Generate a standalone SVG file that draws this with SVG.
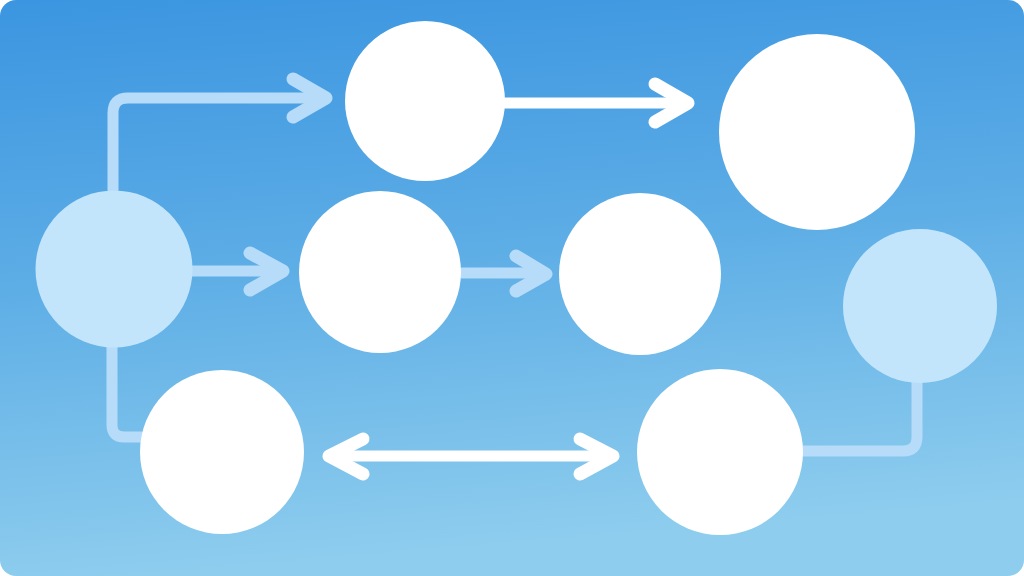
<svg xmlns="http://www.w3.org/2000/svg" width="1024" height="576" viewBox="0 0 1024 576">
  <defs>
    <linearGradient id="bg" x1="0" y1="0" x2="0.15" y2="1">
      <stop offset="0" stop-color="#3b95e0"/>
      <stop offset="0.5" stop-color="#5eaee6"/>
      <stop offset="1" stop-color="#8ecdee"/>
    </linearGradient>
  </defs>
  <style>
    .light { fill: #c3e5fc; }
    .white { fill: #ffffff; }
    .lc { fill: none; stroke: #b6dcfa; stroke-width: 11; stroke-linecap: round; stroke-linejoin: round; }
    .wc { fill: none; stroke: #ffffff; stroke-width: 11; stroke-linecap: round; stroke-linejoin: round; }
    .head { stroke-width: 13; }
  </style>
  <rect x="0" y="0" width="1024" height="576" fill="#ffffff"/>
  <rect x="0" y="0" width="1024" height="576" rx="16" ry="16" fill="url(#bg)"/>

  <g id="connectors">
    <path class="lc" d="M113,190 V113 Q113,98 128,98 H324"/>
    <path class="lc head" d="M293,79 L326,98 L293,117"/>
    <path class="wc" d="M505,103 H686"/>
    <path class="wc head" d="M655,84 L688,103 L655,122"/>
    <path class="lc" d="M192,271 H281"/>
    <path class="lc head" d="M250,253 L283,271 L250,290"/>
    <path class="lc" d="M462,273 H544"/>
    <path class="lc head" d="M516,256 L546,274 L516,291"/>
    <path class="lc" d="M112,346 V425 Q112,437 124,437 H145"/>
    <path class="wc" d="M330,456 H612"/>
    <path class="wc head" d="M363,439 L329,456 L363,474"/>
    <path class="wc head" d="M580,439 L613,456 L580,474"/>
    <path class="lc" d="M800,451 H903 Q917,451 917,437 V380"/>
  </g>

  <g id="nodeA"><circle class="light" cx="114" cy="269" r="78.5"/></g>
  <g id="nodeB"><circle class="white" cx="425" cy="101" r="80"/></g>
  <g id="nodeC"><circle class="white" cx="817" cy="132" r="98"/></g>
  <g id="nodeD"><circle class="white" cx="380" cy="272" r="81"/></g>
  <g id="nodeE"><circle class="white" cx="640" cy="274" r="81"/></g>
  <g id="nodeF"><circle class="light" cx="920" cy="306" r="77"/></g>
  <g id="nodeG"><circle class="white" cx="222" cy="452" r="82"/></g>
  <g id="nodeH"><circle class="white" cx="720" cy="452" r="83"/></g>
</svg>
